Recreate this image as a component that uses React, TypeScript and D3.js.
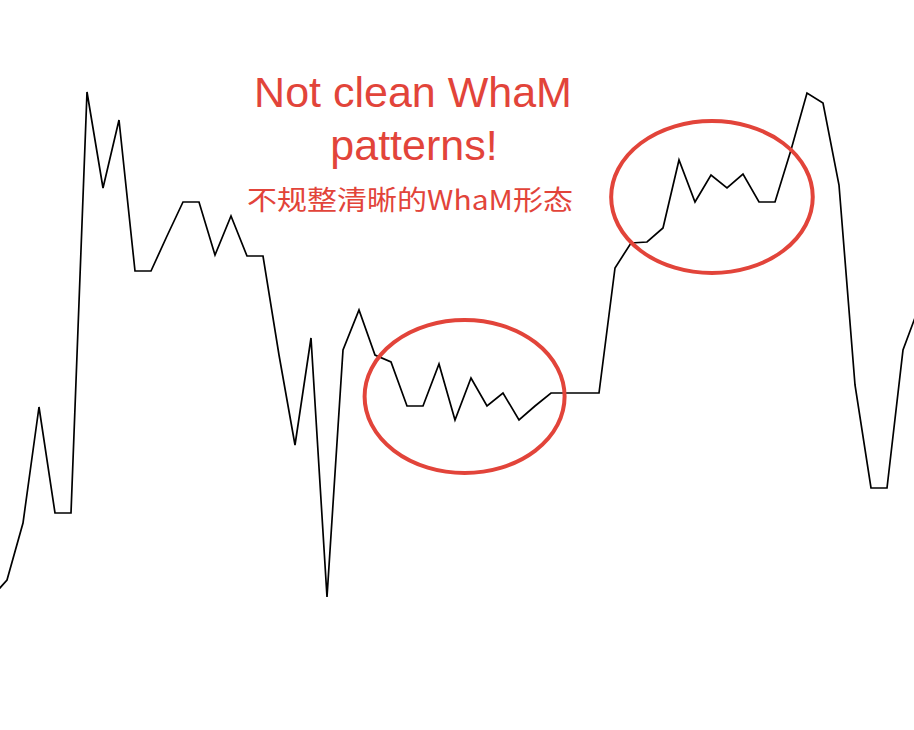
import React from "react";
import * as d3 from "d3";

const W = 914;
const H = 730;

// price series (one value per bar, left to right)
const prices: number[] = [
  20.4, 24, 35.4, 58.6, 37.4, 37.4, 121.6, 102.4, 116, 85.8,
  85.8, 92.8, 99.6, 99.6, 89, 96.8, 88.8, 88.8, 69, 51,
  72.4, 20.6, 70, 78, 69, 67.6, 58.8, 58.8, 67.2, 56,
  64.4, 58.8, 61.4, 56, 58.8, 61.4, 61.4, 61.4, 61.4, 86.4,
  91.4, 91.6, 94.4, 108, 99.6, 105, 102.4, 105.2, 99.6, 99.6,
  110, 121.4, 119.4, 103, 63, 42.4, 42.4, 70, 78.6,
];

// highlighted regions: [centre index, centre price, half-width in bars, half-height in price]
const regionCentreIdx: number[] = [29.6, 45.06];
const regionCentrePrice: number[] = [60.7, 100.6];
const regionHalfBars: number[] = [6.25, 6.3];
const regionHalfPrice: number[] = [15.3, 15.2];

const titleLines: string[] = ["Not clean WhaM", "patterns!"];
const subtitle = "不规整清晰的WhaM形态";

export default function App() {
  const x = d3.scaleLinear().domain([0, prices.length - 1]).range([-9, 919]);
  const y = d3.scaleLinear().domain([0, 140]).range([700, 0]);
  const line = d3
    .line<number>()
    .x((_, i) => x(i))
    .y((d) => y(d));
  const red = "#e2443a";
  return (
    <svg
      width={W}
      height={H}
      style={{ position: "absolute", left: 0, top: 0, background: "#fff" }}
    >
      <rect width={W} height={H} fill="#fff" />
      <path
        d={line(prices) || ""}
        fill="none"
        stroke="#000"
        strokeWidth={1.7}
        strokeLinejoin="miter"
      />
      {regionCentreIdx.map((c, k) => (
        <ellipse
          key={k}
          cx={x(c)}
          cy={y(regionCentrePrice[k])}
          rx={x(c + regionHalfBars[k]) - x(c)}
          ry={y(regionCentrePrice[k] - regionHalfPrice[k]) - y(regionCentrePrice[k])}
          fill="none"
          stroke={red}
          strokeWidth={4}
        />
      ))}
      <g
        fill={red}
        textAnchor="middle"
        fontFamily="'Liberation Sans', Arial, sans-serif"
      >
        <text x={413} y={107} fontSize={43}>
          {titleLines[0]}
        </text>
        <text x={414} y={160} fontSize={43}>
          {titleLines[1]}
        </text>
        <text
          x={410}
          y={210}
          fontSize={27}
          fontFamily="'Noto Sans CJK SC', sans-serif"
          textLength={326}
          lengthAdjust="spacingAndGlyphs"
        >
          {subtitle}
        </text>
      </g>
    </svg>
  );
}
